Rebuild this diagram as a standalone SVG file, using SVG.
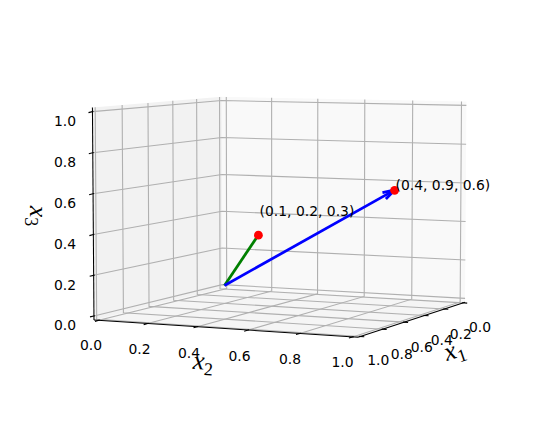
<svg xmlns="http://www.w3.org/2000/svg" width="556" height="429" viewBox="0 0 556 429">
<style>
.grid{stroke:#b0b0b0;stroke-width:1.1;fill:none}
.axis{stroke:#000;stroke-width:1.05;fill:none}
.tick{stroke:#000;stroke-width:1.1}
.tl{font-family:"DejaVu Sans","Liberation Sans",sans-serif;font-size:13.9px;text-anchor:middle;fill:#000}
.ann{font-family:"DejaVu Sans","Liberation Sans",sans-serif;font-size:13.9px;fill:#000}
.lbl{font-family:"Liberation Serif","DejaVu Serif",serif;font-size:26px;text-anchor:middle;fill:#000}
.mi{font-style:italic}
.sub{font-size:18px}
.arr{stroke-width:2.78;fill:none;stroke-linecap:butt;stroke-linejoin:round}
</style>
<rect width="556" height="429" fill="#ffffff"/>
<g id="panes">
<polygon points="222.25,288.30 465.05,302.23 466.42,101.51 221.79,96.84" fill="#f9f9f9"/>
<polygon points="93.97,319.98 222.25,288.30 221.79,96.84 92.43,107.49" fill="#f2f2f2"/>
<polygon points="93.97,319.98 222.25,288.30 465.05,302.23 358.03,337.25" fill="#f5f5f5"/>
</g>
<g id="grid">
<polyline class="grid" points="463.20,302.84 220.02,288.85 219.55,97.02"/>
<polyline class="grid" points="444.31,309.02 197.28,294.47 196.63,98.91"/>
<polyline class="grid" points="424.63,315.45 173.64,300.30 172.80,100.87"/>
<polyline class="grid" points="404.11,322.17 149.03,306.38 147.98,102.91"/>
<polyline class="grid" points="382.70,329.18 123.41,312.71 122.14,105.04"/>
<polyline class="grid" points="360.33,336.49 96.70,319.30 95.19,107.27"/>
<polyline class="grid" points="98.79,320.29 226.70,288.56 226.28,96.92"/>
<polyline class="grid" points="147.54,323.48 271.72,291.14 271.62,97.79"/>
<polyline class="grid" points="197.27,326.73 317.54,293.77 317.79,98.67"/>
<polyline class="grid" points="248.02,330.05 364.21,296.45 364.80,99.57"/>
<polyline class="grid" points="299.81,333.44 411.74,299.17 412.70,100.48"/>
<polyline class="grid" points="352.69,336.90 460.16,301.95 461.49,101.41"/>
<polyline class="grid" points="465.07,298.40 222.24,284.64 93.94,315.92"/>
<polyline class="grid" points="465.34,260.02 222.15,248.03 93.64,275.31"/>
<polyline class="grid" points="465.60,221.54 222.06,211.31 93.35,234.58"/>
<polyline class="grid" points="465.86,182.94 221.98,174.49 93.05,193.71"/>
<polyline class="grid" points="466.13,144.22 221.89,137.57 92.76,152.73"/>
<polyline class="grid" points="466.39,105.40 221.80,100.54 92.46,111.61"/>
</g>
<g id="axes">
<line class="axis" x1="93.97" y1="319.98" x2="358.03" y2="337.25"/>
<line class="axis" x1="465.05" y1="302.23" x2="358.03" y2="337.25"/>
<line class="axis" x1="93.97" y1="319.98" x2="92.43" y2="107.49"/>
<g id="ticks-z">
<line class="tick" x1="94.9" y1="315.7" x2="90.0" y2="316.9"/>
<line class="tick" x1="94.6" y1="275.1" x2="89.7" y2="276.3"/>
<line class="tick" x1="94.3" y1="234.3" x2="89.4" y2="235.6"/>
<line class="tick" x1="94.0" y1="193.5" x2="89.1" y2="194.7"/>
<line class="tick" x1="93.7" y1="152.5" x2="88.8" y2="153.7"/>
<line class="tick" x1="93.4" y1="111.4" x2="88.5" y2="112.6"/>
</g>
<g id="ticks-x2">
<line class="tick" x1="99.7" y1="320.0" x2="95.0" y2="321.4"/>
<line class="tick" x1="148.5" y1="323.2" x2="143.7" y2="324.6"/>
<line class="tick" x1="198.2" y1="326.5" x2="193.5" y2="327.8"/>
<line class="tick" x1="249.0" y1="329.8" x2="244.2" y2="331.2"/>
<line class="tick" x1="300.8" y1="333.2" x2="296.0" y2="334.5"/>
<line class="tick" x1="353.6" y1="336.6" x2="348.9" y2="338.0"/>
</g>
<g id="ticks-x1">
<line class="tick" x1="462.2" y1="302.8" x2="467.2" y2="303.1"/>
<line class="tick" x1="443.3" y1="309.0" x2="448.3" y2="309.3"/>
<line class="tick" x1="423.6" y1="315.4" x2="428.6" y2="315.7"/>
<line class="tick" x1="403.1" y1="322.1" x2="408.1" y2="322.4"/>
<line class="tick" x1="381.7" y1="329.1" x2="386.7" y2="329.4"/>
<line class="tick" x1="359.3" y1="336.4" x2="364.3" y2="336.7"/>
</g>
<g id="ticklabels-z">
<text class="tl" x="65" y="126">1.0</text>
<text class="tl" x="65" y="167">0.8</text>
<text class="tl" x="65" y="208">0.6</text>
<text class="tl" x="65" y="249">0.4</text>
<text class="tl" x="65" y="289.5">0.2</text>
<text class="tl" x="65" y="330">0.0</text>
</g>
<g id="ticklabels-x2">
<text class="tl" x="91" y="350">0.0</text>
<text class="tl" x="139.5" y="354">0.2</text>
<text class="tl" x="189" y="357.7">0.4</text>
<text class="tl" x="239.5" y="361">0.6</text>
<text class="tl" x="290" y="364">0.8</text>
<text class="tl" x="342.5" y="367">1.0</text>
</g>
<g id="ticklabels-x1">
<text class="tl" x="378.3" y="365">1.0</text>
<text class="tl" x="401.7" y="359">0.8</text>
<text class="tl" x="421.7" y="351.7">0.6</text>
<text class="tl" x="441.7" y="345">0.4</text>
<text class="tl" x="460.7" y="339">0.2</text>
<text class="tl" x="480" y="331.7">0.0</text>
</g>
<g id="label-x2" transform="translate(203,364) rotate(3.75)">
<text class="lbl" x="0" y="5.5"><tspan class="mi">x</tspan><tspan class="sub" dy="5.5">2</tspan></text>
</g>
<g id="label-x1" transform="translate(455,352.5) rotate(-18.3)">
<text class="lbl" x="0" y="5.5"><tspan class="mi">x</tspan><tspan class="sub" dy="5.5">1</tspan></text>
</g>
<g id="label-x3" transform="translate(35.5,216) rotate(90)">
<text class="lbl" x="0" y="5.5"><tspan class="mi">x</tspan><tspan class="sub" dy="5.5">3</tspan></text>
</g>
</g>
<g id="connectors">
<g id="vec-green" stroke="#008000" class="arr">
<line x1="224.48" y1="285.44" x2="258.61" y2="234.66"/>
<polyline points="257.33,238.41 258.61,234.66 255.86,236.91"/>
</g>
<g id="vec-blue" stroke="#0000ff" class="arr">
<line x1="224.48" y1="285.44" x2="394.89" y2="189.85"/>
<polyline points="385.90,199.06 394.89,189.85 382.46,192.64"/>
</g>
</g>
<g id="node-p1">
<circle cx="258.4" cy="235.2" r="4.4" fill="#ff0000"/>
<text class="ann" x="259.6" y="216.2">(0.1, 0.2, 0.3)</text>
</g>
<g id="node-p2">
<circle cx="394.6" cy="190.3" r="4.4" fill="#ff0000"/>
<text class="ann" x="395.5" y="190">(0.4, 0.9, 0.6)</text>
</g>
</svg>
